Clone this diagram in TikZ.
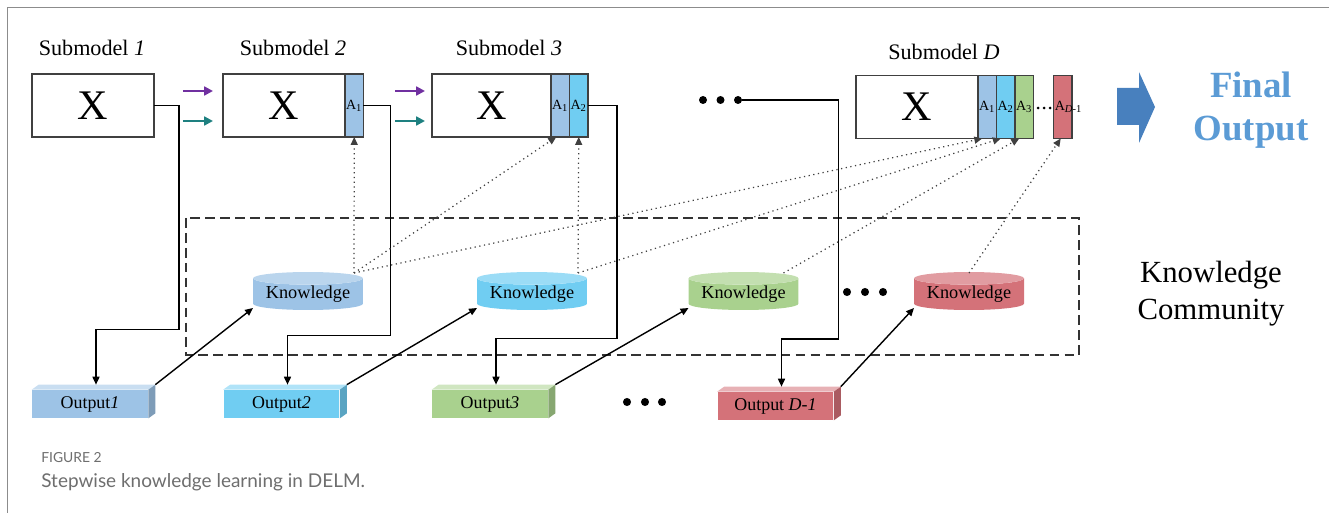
\documentclass[tikz,border=0pt]{standalone}
\usepackage{fontspec}
\setmainfont{Liberation Serif}
\newfontfamily\capfont{Lato}
\usepackage{tikz}
\usetikzlibrary{shapes.geometric, arrows.meta, positioning, calc, backgrounds}
\definecolor{kBlue}{RGB}{157,195,230}
\definecolor{kCyan}{RGB}{112,205,242}
\definecolor{kGreen}{RGB}{169,209,142}
\definecolor{kRed}{RGB}{212,114,121}
\definecolor{arrPurple}{RGB}{112,48,160}
\definecolor{arrTeal}{RGB}{30,128,128}
\definecolor{finalBlue}{RGB}{91,155,213}
\definecolor{bigArrow}{RGB}{72,128,190}
\definecolor{frameGray}{RGB}{140,140,140}
\definecolor{capGray}{RGB}{110,110,110}

% top and side faces of an output block
\newcommand{\outfaces}[2]{%
  \fill[#2!55!white] (#1.north west) -- ++(7,-5) -- ($(#1.north east)+(7,-5)$) -- (#1.north east) -- cycle;
  \fill[#2!80!black] (#1.north east) -- ++(7,-5) -- ($(#1.south east)+(7,-5)$) -- (#1.south east) -- cycle;}

\begin{document}
\begin{tikzpicture}[x=0.02cm, y=-0.02cm,
  submodel/.style={rectangle, draw=black!75, fill=white, line width=0.7pt,
                   minimum width=2.44cm, minimum height=1.26cm,
                   inner sep=0pt, outer sep=0pt, font=\fontsize{24}{24}\selectfont},
  slot/.style={rectangle, draw=black!75, line width=0.7pt,
               minimum width=0.37cm, minimum height=1.26cm,
               inner sep=0pt, outer sep=0pt, font=\fontsize{8}{8}\selectfont},
  sublabel/.style={inner sep=0pt, font=\fontsize{12.6}{14}\selectfont},
  store/.style={cylinder, shape border rotate=90, aspect=0.15, cylinder uses custom fill,
                minimum width=2.2cm, minimum height=0.76cm, inner sep=0pt,
                anchor=shape center, font=\fontsize{10.4}{11}\selectfont},
  output/.style={rectangle, minimum width=2.32cm, minimum height=0.56cm,
                 inner sep=0pt, font=\fontsize{10.2}{11}\selectfont},
  feed/.style={-{Triangle[length=4.5pt, width=4pt]}, line width=0.8pt, black},
  share/.style={-{Triangle[length=4.5pt, width=4pt]}, dotted, line width=0.7pt, black!75},
  pass/.style={-{Triangle[length=5pt, width=5pt]}, line width=1.6pt},
  bigdot/.style={circle, fill=black, inner sep=0pt, minimum size=0.16cm},
]
  \useasboundingbox (0,0) rectangle (1329,513);
  \draw[frameGray, line width=1.1pt] (7.5,513) -- (7.5,7.5) -- (1329,7.5);

  % submodels and their attached knowledge slots
  \node[submodel] (b1) at (93,105.5) {X};
  \node[sublabel] (s1) at (92,48) {Submodel \textit{1}};

  \node[submodel] (b2) at (284,105.5) {X};
  \node[slot, fill=kBlue, right=0pt of b2] (a21) {A\textsubscript{1}};
  \node[sublabel] (s2) at (293,48) {Submodel \textit{2}};

  \node[submodel, minimum width=2.38cm] (b3) at (491.5,105.5) {X};
  \node[slot, fill=kBlue, right=0pt of b3] (a31) {A\textsubscript{1}};
  \node[slot, fill=kCyan, right=0pt of a31] (a32) {A\textsubscript{2}};
  \node[sublabel] (s3) at (509,48) {Submodel \textit{3}};

  \node[submodel] (bd) at (917,107) {X};
  \node[slot, fill=kBlue, right=0pt of bd] (ad1) {A\textsubscript{1}};
  \node[slot, fill=kCyan, right=0pt of ad1] (ad2) {A\textsubscript{2}};
  \node[slot, fill=kGreen, right=0pt of ad2] (ad3) {A\textsubscript{3}};
  \node[slot, fill=kRed, right=0.4cm of ad3] (adn)
    {\makebox[0pt][l]{\hspace{-4.5pt}A\textsubscript{\textit{D}-1}}};
  \node[sublabel] (sd) at (944,52) {Submodel \textit{D}};
  \fill (1038,108) circle (0.85pt) (1044,108) circle (0.85pt) (1050,108) circle (0.85pt);

  % passing X and A on to the next submodel
  \draw[pass, arrPurple] ($(b1.east)+(29,-14.5)$) -- ($(b2.west)+(-10,-14.5)$);
  \draw[pass, arrTeal] ($(b1.east)+(29,15.5)$) -- ($(b2.west)+(-10,15.5)$);
  \draw[pass, arrPurple] ($(a21.east)+(32,-14.5)$) -- ($(b3.west)+(-7,-14.5)$);
  \draw[pass, arrTeal] ($(a21.east)+(32,15.5)$) -- ($(b3.west)+(-7,15.5)$);

  % skipped submodels
  \node[bigdot] (dd1) at (703,100) {};
  \node[bigdot] (dd2) at (720.5,100) {};
  \node[bigdot] (dd3) at (738,100) {};

  % final output
  \fill[bigArrow] (1117,88) -- (1139,88) -- (1139,72) -- (1155,107)
    -- (1139,143) -- (1139,125) -- (1117,125) -- cycle;
  \node[font=\fontsize{21}{24.4}\selectfont\bfseries, text=finalBlue, align=center]
    (fo) at (1251,110) {Final\\Output};

  % knowledge community
  \draw[dashed, dash pattern=on 5.5pt off 3pt, line width=0.6pt, black!80]
    (186,218) rectangle (1079,355);
  \node[store, cylinder body fill=kBlue, cylinder end fill=kBlue!70!white] (k1) at (308,291) {Knowledge};
  \node[store, cylinder body fill=kCyan, cylinder end fill=kCyan!70!white] (k2) at (532,291) {Knowledge};
  \node[store, cylinder body fill=kGreen, cylinder end fill=kGreen!70!white] (k3) at (743.5,291) {Knowledge};
  \node[store, cylinder body fill=kRed, cylinder end fill=kRed!70!white] (k4) at (969,291) {Knowledge};
  \fill (847,292) circle (2.3pt) (865,292) circle (2.3pt) (883,292) circle (2.3pt);
  \node[font=\fontsize{17.5}{21}\selectfont, align=center] (kc) at (1211,294) {Knowledge\\Community};

  % outputs of the submodels
  \node[output, fill=kBlue] (o1) at (90,404) {Output\textit{1}};
  \node[output, fill=kCyan] (o2) at (281.5,404) {Output\textit{2}};
  \node[output, fill=kGreen] (o3) at (490,404) {Output\textit{3}};
  \node[output, fill=kRed] (o4) at (775.5,406) {Output \textit{D-1}};
  \outfaces{o1}{kBlue}
  \outfaces{o2}{kCyan}
  \outfaces{o3}{kGreen}
  \outfaces{o4}{kRed}
  \fill (627,402) circle (2.3pt) (645,402) circle (2.3pt) (662,402) circle (2.3pt);

  % submodel -> output
  \draw[feed] (b1.east) -| ++(25,224) -| ($(o1.north)+(6,-5)$);
  \draw[feed] (a21.east) -| ++(27,230) -| ($(o2.north)+(6,-5)$);
  \draw[feed] (a32.east) -| ++(29,233) -| ($(o3.north)+(6,-5)$);
  \draw[feed] (dd3.east) -| ++(96,239) -| ($(o4.north)+(6,-5)$);

  % output -> knowledge
  \draw[feed] ($(o1.north east)+(7,-5)$) -- ($(k1.shape center)+(-55,17)$);
  \draw[feed] ($(o2.north east)+(7,-5)$) -- ($(k2.shape center)+(-55,17)$);
  \draw[feed] ($(o3.north east)+(7,-5)$) -- ($(k3.shape center)+(-55,17)$);
  \draw[feed] ($(o4.north east)+(7,-5)$) -- ($(k4.shape center)+(-55,17)$);

  % knowledge -> later submodels
  \coordinate (k1top) at ($(k1.shape center)+(46,-18)$);
  \coordinate (k2top) at ($(k2.shape center)+(46,-18)$);
  \coordinate (k3top) at ($(k3.shape center)+(40,-18)$);
  \coordinate (k4top) at ($(k4.shape center)+(0,-18)$);
  \draw[share] (k1top) -- (a21.south);
  \draw[share] (k1top) -- ($(a31.south)+(-4,0)$);
  \draw[share] (k1top) -- ($(ad1.south)+(-5,0)$);
  \draw[share] (k2top) -- (a32.south);
  \draw[share] (k2top) -- ($(ad2.south)+(-5,0)$);
  \draw[share] (k3top) -- ($(ad3.south)+(-5,0)$);
  \draw[share] (k4top) -- ($(adn.south)+(-2,0)$);

  % caption
  \node[anchor=west, inner sep=0pt, text=capGray, font=\capfont\fontsize{7.9}{9}\selectfont]
    (fig) at (41,458) {FIGURE 2};
  \node[anchor=west, inner sep=0pt, text=capGray, font=\capfont\fontsize{10.8}{13}\selectfont]
    (cap) at (41,482) {Stepwise knowledge learning in DELM.};
\end{tikzpicture}
\end{document}
